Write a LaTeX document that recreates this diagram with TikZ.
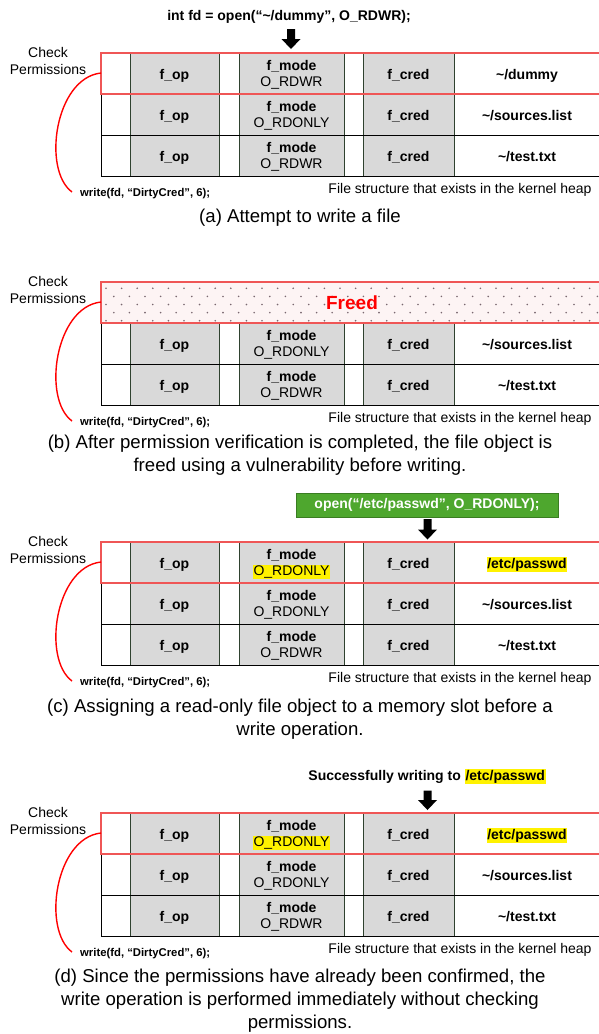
\documentclass[tikz,border=0pt]{standalone}
\usepackage{fontspec}
\setmainfont{Liberation Sans}
\setlength{\fboxsep}{0.7pt}
\definecolor{cellgray}{HTML}{D9D9D9}
\definecolor{celledge}{HTML}{2F422F}
\definecolor{redbox}{HTML}{EF5656}
\definecolor{redcurve}{HTML}{FF0000}
\definecolor{grn}{HTML}{4EA72E}
\definecolor{grndark}{HTML}{3A7D22}
\definecolor{freedfill}{HTML}{FDF4F4}
\definecolor{dotc}{HTML}{7A6870}
\newcommand\hlt[1]{\colorbox{yellow}{#1}}
\newcommand\filerow[4]{%
  \path[cell] (130,#2) rectangle (219,#2+41);
  \path[cell] (239,#2) rectangle (344,#2+41);
  \path[cell] (363,#2) rectangle (454,#2+41);
  \draw[rowline] (101,#2) rectangle (603,#2+41);
  \node[bt] (#1op) at (174.5,#2+26) {f\_op};
  \node[bt] (#1md) at (291.5,#2+17.7) {f\_mode};
  \node[rt] (#1ml) at (291.5,#2+33.7) {#3};
  \node[bt] (#1cr) at (408.5,#2+26) {f\_cred};
  \node[bt] (#1fn) at (527,#2+26) {#4};
}
\newcommand\panelside[2]{%
  \node[rt] (#1chk1) at (48,#2+4.3) {Check};
  \node[rt] (#1chk2) at (48,#2+21) {Permissions};
  \node[wt] (#1w) at (80,#2+143.5) {write(fd, “DirtyCred”, 6);};
  \node[rt] (#1fs) at (460,#2+140) {File structure that exists in the kernel heap};
  \coordinate (#1start) at (101,#2+20);
  \coordinate (#1end) at (72,#2+139);
  \draw[redcurve] (#1start) .. controls (55,#2+25) and (42,#2+117) .. (#1end);
}
\newcommand\dnarrow[3]{%
  \fill[black] (#1-4,#2) -- (#1+4,#2) -- (#1+4,#3-10) -- (#1+9.5,#3-10) -- (#1,#3) -- (#1-9.5,#3-10) -- (#1-4,#3-10) -- cycle;
}
\begin{document}
\begin{tikzpicture}[x=1pt,y=-1pt,
  cell/.style={fill=cellgray,draw=celledge,line width=0.8pt},
  rowline/.style={draw=black,line width=0.8pt},
  redrow/.style={draw=redbox,line width=2pt},
  redcurve/.style={draw=redcurve,line width=1.4pt},
  bt/.style={font=\fontsize{14}{16}\selectfont\bfseries,anchor=base,inner sep=0pt},
  rt/.style={font=\fontsize{14}{16}\selectfont,anchor=base,inner sep=0pt},
  wt/.style={font=\fontsize{11.3}{13}\selectfont\bfseries,anchor=base west,inner sep=0pt},
  capt/.style={font=\fontsize{18.6}{22}\selectfont,anchor=base,inner sep=0pt},
  freedtxt/.style={font=\fontsize{19}{22}\selectfont\bfseries,text=redcurve,inner sep=0pt},
  greenbox/.style={fill=grn,draw=grndark,line width=0.8pt,text=white,font=\fontsize{14}{16}\selectfont\bfseries,minimum width=262pt,minimum height=24pt,inner sep=0pt}]
\useasboundingbox (0,0) rectangle (599,1034);
\fill[white] (0,0) rectangle (599,1034);
\begin{scope}
\clip (0,0) rectangle (599,1034);

% ---------- panel (a) ----------
\node[bt] (ahdr) at (289,20) {int fd = open(“\textasciitilde/dummy”, O\_RDWR);};
\dnarrow{291}{29}{49}
\filerow{ar1}{53}{O\_RDWR}{\textasciitilde/dummy}
\filerow{ar2}{94}{O\_RDONLY}{\textasciitilde/sources.list}
\filerow{ar3}{135}{O\_RDWR}{\textasciitilde/test.txt}
\draw[redrow] (101,53) rectangle (603,94);
\panelside{a}{53}
\node[capt] (acap) at (300,222) {(a) Attempt to write a file};

% ---------- panel (b) ----------
\fill[freedfill] (101,282) rectangle (603,323);
\foreach \j in {0,...,4}{
  \pgfmathsetmacro{\yy}{288.3+8.1*\j}
  \pgfmathsetmacro{\xo}{106+7.8*mod(\j,2)}
  \foreach \i in {0,...,32}{
    \fill[dotc] (\xo+15.6*\i,\yy) circle (0.9pt);
  }
}
\filerow{br2}{323}{O\_RDONLY}{\textasciitilde/sources.list}
\filerow{br3}{364}{O\_RDWR}{\textasciitilde/test.txt}
\draw[redrow] (101,282) rectangle (603,323);
\node[freedtxt] (bfreed) at (352,303) {Freed};
\panelside{b}{282}
\node[capt] (bcap1) at (300,448) {(b) After permission verification is completed, the file object is};
\node[capt] (bcap2) at (300,471) {freed using a vulnerability before writing.};

% ---------- panel (c) ----------
\node[greenbox] (copen) at (427,505) {open(“/etc/passwd”, O\_RDONLY);};
\dnarrow{427.5}{519}{539.5}
\filerow{cr1}{542}{\hlt{O\_RDONLY}}{\hlt{/etc/passwd}}
\filerow{cr2}{583}{O\_RDONLY}{\textasciitilde/sources.list}
\filerow{cr3}{624}{O\_RDWR}{\textasciitilde/test.txt}
\draw[redrow] (101,542) rectangle (603,583);
\panelside{c}{542}
\node[capt] (ccap1) at (300,712) {(c) Assigning a read-only file object to a memory slot before a};
\node[capt] (ccap2) at (300,735) {write operation.};

% ---------- panel (d) ----------
\node[bt] (dhdr) at (427,780) {Successfully writing to \hlt{/etc/passwd}};
\dnarrow{427.5}{790.5}{810}
\filerow{dr1}{813}{\hlt{O\_RDONLY}}{\hlt{/etc/passwd}}
\filerow{dr2}{854}{O\_RDONLY}{\textasciitilde/sources.list}
\filerow{dr3}{895}{O\_RDWR}{\textasciitilde/test.txt}
\draw[redrow] (101,813) rectangle (603,854);
\panelside{d}{813}
\node[capt] (dcap1) at (300,982) {(d) Since the permissions have already been confirmed, the};
\node[capt] (dcap2) at (300,1005) {write operation is performed immediately without checking};
\node[capt] (dcap3) at (300,1028) {permissions.};
\end{scope}
\end{tikzpicture}
\end{document}
